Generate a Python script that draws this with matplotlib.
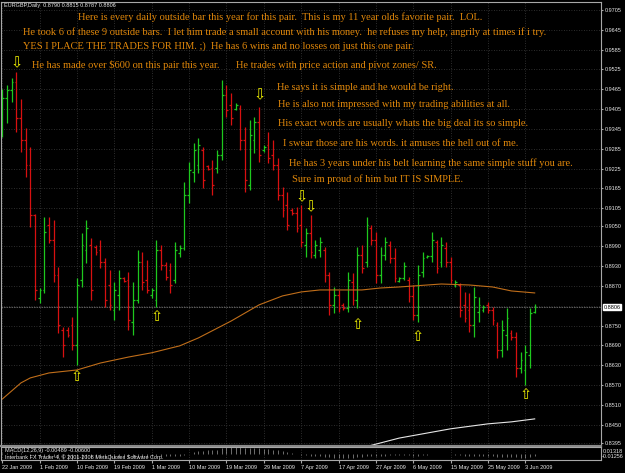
import matplotlib

matplotlib.use("Agg")
import matplotlib.pyplot as plt
import pandas as pd

W, H = 625, 473

# EURGBP daily bars, 22 Jan 2009 .. 5 Jun 2009
opens = [
    0.9342, 0.9439, 0.9463, 0.9487, 0.9378, 0.9312, 0.9236, 0.9085, 0.8834, 0.8858,
    0.9055, 0.9009, 0.8903, 0.8737, 0.8737, 0.8752, 0.8692, 0.8888, 0.8979, 0.8994,
    0.8988, 0.8979, 0.8943, 0.8873, 0.8798, 0.8843, 0.8894, 0.8888, 0.8761, 0.8828,
    0.8943, 0.8888, 0.8843, 0.8828, 0.8979, 0.8934, 0.8919, 0.8888, 0.8970, 0.8985,
    0.9145, 0.9215, 0.9236, 0.9282, 0.9233, 0.9227, 0.9227, 0.9266, 0.9448, 0.9418,
    0.9406, 0.9409, 0.9312, 0.9176, 0.9312, 0.9366, 0.9282, 0.9297, 0.9266, 0.9236,
    0.9145, 0.9115, 0.9100, 0.9091, 0.9055, 0.8994, 0.9030, 0.8964, 0.8979, 0.8979,
    0.8903, 0.8813, 0.8843, 0.8813, 0.8804, 0.8882, 0.8828, 0.8964, 0.8943, 0.9046,
    0.9009, 0.8903, 0.8964, 0.8994, 0.8955, 0.8885, 0.8894, 0.8888, 0.8840, 0.8782,
    0.8913, 0.8958, 0.8961, 0.9003, 0.8943, 0.8985, 0.8943, 0.8873, 0.8873, 0.8813,
    0.8798, 0.8752, 0.8792, 0.8798, 0.8813, 0.8798, 0.8752, 0.8677, 0.8722, 0.8728,
    0.8716, 0.8622, 0.8616, 0.8661, 0.8790,
]
highs = [
    0.9466, 0.9478, 0.9499, 0.9518, 0.9436, 0.9348, 0.9291, 0.9088, 0.8864, 0.9079,
    0.9079, 0.9070, 0.8928, 0.8746, 0.8746, 0.8776, 0.8894, 0.9030, 0.9070, 0.9015,
    0.8994, 0.9009, 0.8955, 0.8919, 0.8882, 0.8919, 0.8897, 0.8913, 0.8882, 0.8979,
    0.8973, 0.8949, 0.8864, 0.9009, 0.8994, 0.8943, 0.8940, 0.9003, 0.8994, 0.9185,
    0.9245, 0.9303, 0.9318, 0.9291, 0.9236, 0.9251, 0.9282, 0.9493, 0.9478, 0.9454,
    0.9424, 0.9418, 0.9351, 0.9372, 0.9381, 0.9412, 0.9297, 0.9336, 0.9312, 0.9257,
    0.9170, 0.9154, 0.9106, 0.9109, 0.9115, 0.9046, 0.9085, 0.9009, 0.9018, 0.8988,
    0.8913, 0.8867, 0.8858, 0.8819, 0.8913, 0.8910, 0.8988, 0.8994, 0.9079, 0.9055,
    0.9034, 0.8988, 0.9018, 0.9006, 0.8985, 0.8897, 0.8943, 0.8897, 0.8873, 0.8934,
    0.8973, 0.8964, 0.9034, 0.9009, 0.9018, 0.9003, 0.8958, 0.8888, 0.8879, 0.8852,
    0.8849, 0.8867, 0.8837, 0.8813, 0.8822, 0.8807, 0.8761, 0.8767, 0.8804, 0.8737,
    0.8731, 0.8671, 0.8692, 0.8804, 0.8815,
]
lows = [
    0.9321, 0.9363, 0.9427, 0.9336, 0.9276, 0.9200, 0.9049, 0.8828, 0.8819, 0.8849,
    0.9000, 0.8882, 0.8728, 0.8655, 0.8716, 0.8677, 0.8631, 0.8867, 0.8940, 0.8828,
    0.8964, 0.8925, 0.8807, 0.8798, 0.8767, 0.8798, 0.8882, 0.8737, 0.8722, 0.8819,
    0.8858, 0.8849, 0.8834, 0.8807, 0.8919, 0.8888, 0.8849, 0.8879, 0.8958, 0.8979,
    0.9121, 0.9185, 0.9212, 0.9167, 0.9221, 0.9145, 0.9212, 0.9251, 0.9381, 0.9357,
    0.9403, 0.9282, 0.9154, 0.9161, 0.9272, 0.9245, 0.9276, 0.9242, 0.9221, 0.9130,
    0.9079, 0.9040, 0.9085, 0.9034, 0.8988, 0.8958, 0.8955, 0.8955, 0.8958, 0.8882,
    0.8782, 0.8789, 0.8792, 0.8798, 0.8792, 0.8813, 0.8804, 0.8910, 0.8928, 0.8994,
    0.8879, 0.8879, 0.8949, 0.8940, 0.8882, 0.8882, 0.8888, 0.8822, 0.8767, 0.8761,
    0.8897, 0.8955, 0.8943, 0.8910, 0.8928, 0.8928, 0.8879, 0.8867, 0.8776, 0.8761,
    0.8731, 0.8716, 0.8761, 0.8792, 0.8789, 0.8752, 0.8652, 0.8655, 0.8677, 0.8707,
    0.8595, 0.8607, 0.8571, 0.8622, 0.8787,
]
closes = [
    0.9439, 0.9463, 0.9487, 0.9378, 0.9312, 0.9236, 0.9085, 0.8858, 0.8858, 0.9034,
    0.9009, 0.8903, 0.8752, 0.8692, 0.8722, 0.8692, 0.8873, 0.8994, 0.9046, 0.8858,
    0.8973, 0.8943, 0.8828, 0.8813, 0.8858, 0.8894, 0.8885, 0.8767, 0.8828, 0.8943,
    0.8882, 0.8858, 0.8858, 0.8979, 0.8934, 0.8897, 0.8873, 0.8979, 0.8985, 0.9145,
    0.9221, 0.9282, 0.9297, 0.9191, 0.9224, 0.9176, 0.9266, 0.9448, 0.9403, 0.9378,
    0.9418, 0.9312, 0.9191, 0.9327, 0.9366, 0.9266, 0.9291, 0.9257, 0.9236, 0.9145,
    0.9100, 0.9055, 0.9091, 0.9046, 0.9003, 0.9030, 0.8973, 0.8994, 0.9003, 0.8903,
    0.8813, 0.8843, 0.8804, 0.8804, 0.8888, 0.8828, 0.8964, 0.8925, 0.9055, 0.9009,
    0.8903, 0.8964, 0.9003, 0.8955, 0.8894, 0.8894, 0.8931, 0.8840, 0.8782, 0.8903,
    0.8955, 0.8961, 0.9009, 0.8925, 0.8994, 0.8943, 0.8888, 0.8882, 0.8798, 0.8773,
    0.8752, 0.8837, 0.8813, 0.8807, 0.8798, 0.8767, 0.8677, 0.8737, 0.8773, 0.8716,
    0.8622, 0.8646, 0.8671, 0.8789, 0.8806,
]

# moving averages (bar number, value)
ma_bars = [1, 5, 7, 11, 17, 22, 28, 33, 39, 43, 50, 56, 61, 65, 69, 78, 82, 86, 95, 101, 106, 110, 115]
ma_vals = [0.8528, 0.8577, 0.8592, 0.8607, 0.8616, 0.8637, 0.8655, 0.8668, 0.8689, 0.8713, 0.8764, 0.8813,
           0.8840, 0.8852, 0.8858, 0.8858, 0.8864, 0.8867, 0.8876, 0.8873, 0.8867, 0.8855, 0.8849]
ma2_bars = [80, 86, 97, 105, 110, 115]
ma2_vals = [0.8388, 0.8410, 0.8438, 0.8453, 0.8459, 0.8468]

# MACD(12,26,9) main, in thousandths
macd_vals = [
    2, 2, 2.5, 2, 1, 0, -2, -4.5, -6, -6,
    -6.5, -7.5, -9, -11, -12.5, -12.5, -11.5, -10, -8.5, -8.5,
    -8, -7.5, -8, -8.5, -8.5, -8, -7.5, -8, -8, -7,
    -6.5, -6.5, -6.5, -5.5, -5, -5, -5, -4.5, -4, -2,
    0, 2.5, 4.5, 5.5, 6.5, 7, 8, 11, 12.5, 13,
    13.2, 12.5, 11.5, 11.5, 11.5, 10.5, 10, 9, 8, 6.5,
    4.5, 2.5, 1, -0.5, -2, -3, -4, -4.5, -5, -6,
    -7.5, -8, -8.5, -9, -8.5, -8.5, -7.5, -7, -5.5, -5,
    -5, -4.5, -4, -3.5, -3.5, -3.5, -3, -3.5, -4.5, -4,
    -3, -2.5, -1.5, -1.5, -1, -1, -1.5, -2, -3, -4,
    -5, -5, -5, -5, -5, -5.5, -6.5, -7, -6.5, -6.5,
    -7.5, -8, -8, -6.5, -4.9,
]

# outside bars marked on the chart
down_bars = [4, 56, 65, 67]
down_prices = [0.9546, 0.9448, 0.9140, 0.9110]
up_bars = [17, 34, 77, 90, 113]
up_prices = [0.8596, 0.8778, 0.8755, 0.8717, 0.8543]

price_ticks = [0.9705, 0.9645, 0.9585, 0.9525, 0.9465, 0.9405, 0.9345, 0.9285, 0.9225, 0.9165,
               0.9105, 0.9050, 0.8990, 0.8930, 0.8870, 0.8750, 0.8690, 0.8630, 0.8570, 0.8510,
               0.8450, 0.8395]
grid_levels = price_ticks + [0.8810]
bid = 0.8806

notes = [
    ("Here is every daily outside bar this year for this pair.  This is my 11 year olds favorite pair.  LOL.", 78, 17),
    ("He took 6 of these 9 outside bars.  I let him trade a small account with his money.  "
     "he refuses my help, angrily at times if i try.", 23, 32),
    ("YES I PLACE THE TRADES FOR HIM. ;)  He has 6 wins and no losses on just this one pair.", 23, 46),
    ("He has made over $600 on this pair this year.", 32, 65),
    ("He trades with price action and pivot zones/ SR.", 236, 66),
    ("He says it is simple and he would be right.", 277, 87),
    ("He is also not impressed with my trading abilities at all.", 278, 104),
    ("His exact words are usually whats the big deal its so simple.", 278, 123),
    ("I swear those are his words. it amuses the hell out of me.", 283, 143),
    ("He has 3 years under his belt learning the same simple stuff you are.", 289, 163),
    ("Sure im proud of him but IT IS SIMPLE.", 292, 179),
]

UP = "#1ec81e"
DOWN = "#d81010"
GRID = "#3c3c3c"
TXT = "#e8e8e8"
NOTE = "#e2880a"
SANS = "Liberation Sans"

n = len(closes)
bars = list(range(1, n + 1))
dates = pd.bdate_range("2009-01-22", periods=n, freq="C",
                       weekmask="Sun Mon Tue Wed Thu Fri", holidays=["2009-04-10"])
label_bars = bars[::8]
date_labels = [f"{dates[b - 1].day} {dates[b - 1]:%b %Y}" for b in label_bars]

fig = plt.figure(figsize=(W / 100, H / 100), dpi=100, facecolor="black")
ax = fig.add_axes([1 / W, 1 - 446 / H, 600 / W, 444 / H], facecolor="black")
mx = fig.add_axes([1 / W, 1 - 460 / H, 600 / W, 13 / H], facecolor="black")

x_lo, x_hi = 0.72, 129.2
for a in (ax, mx):
    a.set_xlim(x_lo, x_hi)
    for s in a.spines.values():
        s.set_color("#a8a8a8")
        s.set_linewidth(0.8)
    a.set_xticks(label_bars)
    a.grid(True, axis="x", color=GRID, linestyle=(0, (1, 2)), linewidth=0.6)

ax.set_ylim(0.8386, 0.9729)
ax.spines["bottom"].set_color("#8a8a8a")
ax.spines["bottom"].set_linewidth(1.6)
for lv in grid_levels:
    ax.axhline(lv, color=GRID, linestyle=(0, (1, 2)), linewidth=0.6, zorder=0)
ax.axhline(bid, color="#6a6a6a", linestyle=(0, (2, 1)), linewidth=0.6, zorder=0)

ax.yaxis.tick_right()
ax.set_yticks(price_ticks)
ax.set_yticklabels([f"{v:.4f}" for v in price_ticks])
ax.tick_params(axis="y", colors="#a8a8a8", labelcolor=TXT, labelsize=4, length=1.5, pad=1.5)
ax.tick_params(axis="x", length=0, labelbottom=False)
for t in ax.get_yticklabels():
    t.set_fontfamily(SANS)
ax.text(1.004, bid, f"{bid:.4f}", transform=ax.get_yaxis_transform(), fontsize=4, family=SANS,
        color="black", va="center", ha="left",
        bbox=dict(boxstyle="square,pad=0.15", fc="white", ec="white"))

# OHLC bars
for b, o, hi, lo, c in zip(bars, opens, highs, lows, closes):
    col = UP if c >= o else DOWN
    ax.vlines(b, lo, hi, color=col, linewidth=0.9)
    ax.hlines(o, b - 0.38, b, color=col, linewidth=0.9)
    ax.hlines(c, b, b + 0.38, color=col, linewidth=0.9)

ax.plot(ma_bars, ma_vals, color="#c06e1a", linewidth=0.8)
ax.plot(ma2_bars, ma2_vals, color="#e6e6e6", linewidth=0.8)

for b, p in zip(down_bars, down_prices):
    ax.text(b, p, "\u21e9", color="#f0f000", fontsize=10.5, ha="center", va="center", family="DejaVu Sans")
for b, p in zip(up_bars, up_prices):
    ax.text(b, p, "\u21e7", color="#f0f000", fontsize=10.5, ha="center", va="center", family="DejaVu Sans")

# MACD window
mx.set_ylim(-12.56, 13.18)
mx.vlines(bars, 0, macd_vals, color="#9a9a9a", linewidth=0.5)
mx.set_yticks([])
mx.set_xticklabels(date_labels, ha="left", fontsize=4, family=SANS, color=TXT)
mx.tick_params(axis="x", colors="#a8a8a8", labelcolor=TXT, length=2, pad=1.5)
mx.text(0.006, 0.72, "MACD(12,26,9) -0.00489 -0.00600", transform=mx.transAxes,
        fontsize=4, family=SANS, color=TXT, va="center")
mx.text(0.006, 0.2, "Interbank FX Trader 4, \u00a9 2001-2008 MetaQuotes Software Corp.",
        transform=mx.transAxes, fontsize=4, family=SANS, color=TXT, va="center")
fig.text(603 / W, 1 - 451 / H, "0.01318", fontsize=4, family=SANS, color=TXT, va="center")
fig.text(602 / W, 1 - 456 / H, "-0.01256", fontsize=4, family=SANS, color=TXT, va="center")

fig.text(4 / W, 1 - 6 / H, "EURGBP,Daily  0.8790 0.8815 0.8787 0.8806", fontsize=4, family=SANS,
         color=TXT, va="center")

for txt, x, y in notes:
    fig.text(x / W, 1 - y / H, txt, fontsize=7.5, family="Liberation Serif", color=NOTE, va="center")

fig.savefig("out.png", dpi=100, facecolor="black")
